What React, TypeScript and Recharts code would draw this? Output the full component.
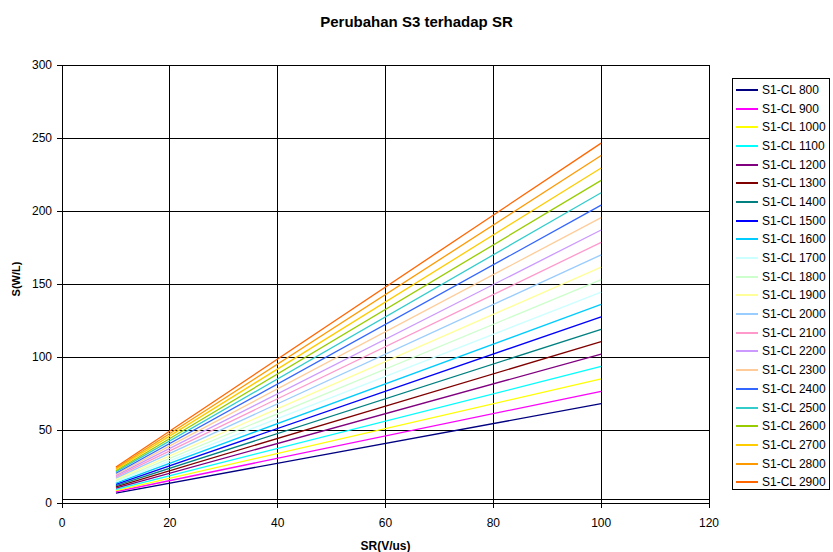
import { LineChart, Line, XAxis, YAxis, CartesianGrid, ReferenceLine } from "recharts";

// series labels and colours, one per CL value
const seriesNames = [
  "S1-CL 800", "S1-CL 900", "S1-CL 1000", "S1-CL 1100", "S1-CL 1200", "S1-CL 1300",
  "S1-CL 1400", "S1-CL 1500", "S1-CL 1600", "S1-CL 1700", "S1-CL 1800", "S1-CL 1900",
  "S1-CL 2000", "S1-CL 2100", "S1-CL 2200", "S1-CL 2300", "S1-CL 2400", "S1-CL 2500",
  "S1-CL 2600", "S1-CL 2700", "S1-CL 2800", "S1-CL 2900",
];
const seriesColors = [
  "#000080", "#FF00FF", "#FFFF00", "#00FFFF", "#800080", "#800000",
  "#008080", "#0000FF", "#00CCFF", "#CCFFFF", "#CCFFCC", "#FFFF99",
  "#99CCFF", "#FF99CC", "#CC99FF", "#FFCC99", "#3366FF", "#33CCCC",
  "#99CC00", "#FFCC00", "#FF9900", "#FF6600",
];

// SR (V/us) at the two ends of every line
const srValues = [10, 100];
// S(W/L) at SR = 10 and SR = 100
const sAtSr10 = [
  6.8, 7.7, 8.5, 9.4, 10.2, 11.1, 11.9, 12.8, 13.6, 14.5, 15.3,
  16.2, 17.0, 17.9, 18.7, 19.6, 20.4, 21.3, 22.1, 23.0, 23.8, 24.7,
];
const sAtSr100 = [
  68, 76.5, 85, 93.5, 102, 110.5, 119, 127.5, 136, 144.5, 153,
  161.5, 170, 178.5, 187, 195.5, 204, 212.5, 221, 229.5, 238, 246.5,
];
const baseLevel = 2.5;

const xTicks = [0, 20, 40, 60, 80, 100, 120];
const yTicks = [0, 50, 100, 150, 200, 250, 300];

const series = seriesNames.map((name, i) => ({
  name,
  color: seriesColors[i],
  points: [
    { sr: srValues[0], s: sAtSr10[i] },
    { sr: srValues[1], s: sAtSr100[i] },
  ],
}));

const FONT = "'Liberation Sans', Arial, sans-serif";

export default function App() {
  return (
    <div
      style={{
        position: "absolute",
        left: 0,
        top: 0,
        width: 833,
        height: 552,
        background: "#fff",
        fontFamily: FONT,
      }}
    >
      <LineChart
        width={833}
        height={552}
        margin={{ top: 65, right: 124, bottom: 19, left: 22 }}
      >
        <CartesianGrid stroke="#000" strokeWidth={1} shapeRendering="crispEdges" />
        <XAxis
          type="number"
          dataKey="sr"
          domain={[0, 120]}
          ticks={xTicks}
          height={30}
          tickSize={5}
          tickMargin={10}
          stroke="#000"
          axisLine={{ stroke: "#000", shapeRendering: "crispEdges" }}
          tickLine={{ stroke: "#000", shapeRendering: "crispEdges" }}
          tick={{ fontSize: 12, fill: "#000", fontFamily: FONT }}
        />
        <YAxis
          type="number"
          domain={[0, 300]}
          ticks={yTicks}
          width={40}
          tickSize={5}
          tickMargin={5}
          stroke="#000"
          axisLine={{ stroke: "#000", shapeRendering: "crispEdges" }}
          tickLine={{ stroke: "#000", shapeRendering: "crispEdges" }}
          tick={{ fontSize: 12, fill: "#000", fontFamily: FONT }}
        />
        <ReferenceLine y={baseLevel} stroke="#000" strokeWidth={1} shapeRendering="crispEdges" />
        {series.map((s) => (
          <Line
            key={s.name}
            name={s.name}
            data={s.points}
            dataKey="s"
            type="linear"
            stroke={s.color}
            strokeWidth={1.3}
            dot={false}
            isAnimationActive={false}
          />
        ))}
      </LineChart>

      <svg
        width={833}
        height={552}
        style={{ position: "absolute", left: 0, top: 0, pointerEvents: "none" }}
      >
        <text
          x={416.5}
          y={26.5}
          textAnchor="middle"
          fontSize={15}
          fontWeight="bold"
          fontFamily={FONT}
        >
          Perubahan S3 terhadap SR
        </text>
        <text
          x={385.5}
          y={549.5}
          textAnchor="middle"
          fontSize={12}
          fontWeight="bold"
          fontFamily={FONT}
        >
          SR(V/us)
        </text>
        <text
          x={20}
          y={279}
          textAnchor="middle"
          fontSize={11}
          fontWeight="bold"
          fontFamily={FONT}
          transform="rotate(-90 20 279)"
        >
          S(W/L)
        </text>
      </svg>

      <div
        style={{
          position: "absolute",
          left: 732,
          top: 78,
          width: 98,
          height: 412,
          border: "1px solid #000",
          background: "#fff",
          boxSizing: "border-box",
          paddingTop: 1.5,
        }}
      >
        {series.map((s) => (
          <div
            key={s.name}
            style={{
              height: 18.7,
              display: "flex",
              alignItems: "center",
              fontSize: 12,
              color: "#000",
              whiteSpace: "nowrap",
            }}
          >
            <span
              style={{
                display: "inline-block",
                width: 22,
                height: 2,
                marginLeft: 3,
                marginRight: 4,
                background: s.color,
              }}
            />
            {s.name}
          </div>
        ))}
      </div>
    </div>
  );
}
